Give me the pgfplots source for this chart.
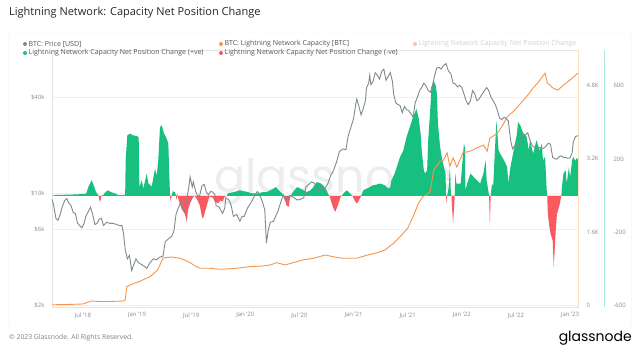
\documentclass[border=0pt]{standalone}
\usepackage{pgfplots}
\pgfplotsset{compat=1.18}
\usepackage{fontspec}
\setmainfont{Open Sans}
\newfontfamily\logofont{Poppins}
\definecolor{pricegray}{HTML}{7E8A8F}
\definecolor{capor}{HTML}{F7944A}
\definecolor{posgreen}{HTML}{17C07E}
\definecolor{negred}{HTML}{F85A60}
\definecolor{tealax}{HTML}{A8EBDA}
\definecolor{orax}{HTML}{FCDDBE}
\definecolor{ticktxt}{HTML}{8C8C8C}
\definecolor{legtxt}{HTML}{555555}
\newcommand\tickfont{\fontsize{6}{7}\selectfont}
\newcommand\legfont{\fontsize{7}{8}\selectfont}
\pgfplotsset{
  base/.style={at={(52pt,47pt)}, anchor=south west, scale only axis,
    width=526pt, height=257pt, xmin=2018.214, xmax=2023.074},
}
\begin{document}
\begin{tikzpicture}
\begin{scope}[x=1pt,y=1pt]
\fill[white] (0,0) rectangle (640,354);
\draw[gray!12, rounded corners=2pt] (8.5,28) rectangle (631.5,321);
\node[anchor=base west, font=\logofont\fontsize{46}{46}\selectfont, text=gray!14, inner sep=0pt] at (214,161) {glassnode};
\end{scope}

% grid + left/bottom axis (price scale)
\begin{axis}[base, ymode=log, ymin=1950, ymax=79000,
  ytick={2000,6000,10000,40000}, yticklabels={\$2k,\$6k,\$10k,\$40k}, minor ytick={},
  xtick={2018.5,2019,2019.5,2020,2020.5,2021,2021.5,2022,2022.5,2023},
  xticklabels={Jul '18,Jan '19,Jul '19,Jan '20,Jul '20,Jan '21,Jul '21,Jan '22,Jul '22,Jan '23},
  axis line style={draw=gray!20}, major tick length=0pt,
  ymajorgrids, grid style={gray!12, line width=0.5pt},
  tick label style={font=\tickfont, text=ticktxt},
  yticklabel style={xshift=-4pt}, xticklabel style={yshift=-2pt}]
\end{axis}
% grid at capacity ticks
\begin{axis}[base, ymin=-33, ymax=5575, axis lines=none, xtick=\empty,
  ytick={1600,3200,4800}, yticklabels={}, major tick length=0pt,
  ymajorgrids, grid style={gray!12, line width=0.5pt}]
\end{axis}

% net position change
\begin{axis}[base, ymin=-606.6, ymax=795.4, axis x line=none, axis y line*=right,
  y axis line style={draw=none}, ytick={-600,-200,200,600}, yticklabels={-600,-200,200,600},
  major tick length=0pt, tick label style={font=\tickfont, text=ticktxt},
  yticklabel style={anchor=west, xshift=32pt}]
\addplot[fill=posgreen, draw=none] coordinates {
(2018.214,0) (2018.25,5) (2018.35,6) (2018.45,8) (2018.50,10) (2018.53,12) (2018.55,48) (2018.58,85) (2018.60,57) (2018.62,21) (2018.64,5) (2018.645,0) (2018.67,0) (2018.69,5) (2018.70,15) (2018.73,30) (2018.76,20) (2018.80,12) (2018.82,5) (2018.85,4) (2018.89,5) (2018.895,200) (2018.91,330) (2018.935,339) (2018.965,330) (2018.997,325) (2019.015,320) (2019.021,48) (2019.043,85) (2019.058,40) (2019.089,121) (2019.104,68) (2019.135,50) (2019.166,148) (2019.182,110) (2019.196,194) (2019.212,375) (2019.228,385) (2019.249,340) (2019.268,320) (2019.289,285) (2019.298,110) (2019.305,0) (2019.32,0) (2019.33,25) (2019.35,20) (2019.36,0) (2019.365,0) (2019.37,10) (2019.375,0) (2019.83,0) (2019.84,14) (2019.90,21) (2019.95,30) (2020.02,21) (2020.06,14) (2020.11,12) (2020.16,20) (2020.20,21) (2020.26,39) (2020.28,48) (2020.31,30) (2020.34,14) (2020.355,0) (2020.42,0) (2020.44,21) (2020.48,48) (2020.51,39) (2020.54,30) (2020.57,21) (2020.60,30) (2020.63,48) (2020.66,75) (2020.69,70) (2020.72,57) (2020.75,30) (2020.77,5) (2020.78,0) (2020.89,0) (2020.92,21) (2020.94,30) (2020.97,12) (2020.99,0) (2021.07,0) (2021.09,30) (2021.12,39) (2021.18,57) (2021.25,67) (2021.29,57) (2021.32,39) (2021.34,48) (2021.35,85) (2021.38,121) (2021.40,157) (2021.43,212) (2021.46,248) (2021.49,321) (2021.52,375) (2021.55,430) (2021.57,457) (2021.58,476) (2021.60,430) (2021.62,339) (2021.63,248) (2021.65,139) (2021.66,121) (2021.68,139) (2021.69,303) (2021.71,484) (2021.72,594) (2021.74,630) (2021.76,600) (2021.77,558) (2021.78,394) (2021.80,266) (2021.82,194) (2021.85,121) (2021.855,0) (2021.865,0) (2021.88,48) (2021.89,157) (2021.90,10) (2021.905,0) (2021.935,0) (2021.94,121) (2021.95,67) (2021.99,67) (2022.02,285) (2022.03,260) (2022.033,30) (2022.05,67) (2022.08,121) (2022.11,103) (2022.14,85) (2022.17,67) (2022.20,121) (2022.22,194) (2022.23,85) (2022.25,10) (2022.253,0) (2022.267,0) (2022.28,67) (2022.29,48) (2022.32,412) (2022.34,248) (2022.355,230) (2022.39,194) (2022.42,157) (2022.43,67) (2022.45,157) (2022.48,248) (2022.51,339) (2022.52,403) (2022.54,385) (2022.57,339) (2022.60,321) (2022.62,248) (2022.63,303) (2022.66,230) (2022.69,303) (2022.72,248) (2022.74,285) (2022.75,194) (2022.77,212) (2022.785,30) (2022.79,0) (2022.92,0) (2022.925,48) (2022.94,121) (2022.96,139) (2022.97,67) (2022.99,157) (2023.00,100) (2023.02,194) (2023.03,212) (2023.05,190) (2023.06,205) (2023.074,200) (2023.074,0)
};
\addplot[fill=negred, draw=none] coordinates {
(2018.645,0) (2018.65,-20) (2018.66,-34) (2018.67,0) (2019.305,0) (2019.31,-30) (2019.32,0) (2019.36,0) (2019.365,-25) (2019.37,0) (2019.375,0) (2019.38,-15) (2019.41,-70) (2019.44,-97) (2019.46,-143) (2019.47,-80) (2019.49,-40) (2019.52,-5) (2019.53,0) (2019.55,-15) (2019.58,-52) (2019.60,-116) (2019.61,-124) (2019.64,-61) (2019.66,-20) (2019.67,-5) (2019.70,-10) (2019.72,-34) (2019.75,-40) (2019.77,-25) (2019.79,-30) (2019.81,-5) (2019.83,0) (2020.355,0) (2020.37,-25) (2020.38,-52) (2020.40,-61) (2020.41,-25) (2020.42,0) (2020.78,0) (2020.79,-25) (2020.81,-61) (2020.83,-88) (2020.85,-61) (2020.87,-25) (2020.88,-5) (2020.89,0) (2020.99,0) (2021.01,-25) (2021.03,-43) (2021.05,-25) (2021.07,0) (2021.855,0) (2021.86,-43) (2021.865,0) (2021.905,0) (2021.91,-60) (2021.92,-152) (2021.93,-50) (2021.935,0) (2022.253,0) (2022.26,-170) (2022.267,0) (2022.79,0) (2022.795,-97) (2022.81,-170) (2022.82,-206) (2022.84,-243) (2022.85,-388) (2022.86,-279) (2022.87,-170) (2022.88,-97) (2022.90,-60) (2022.915,-15) (2022.92,0)
};
\end{axis}

% capacity
\begin{axis}[base, ymin=-33, ymax=5575, axis x line=none, axis y line*=right,
  y axis line style={draw=orax, line width=0.8pt}, ytick={0,1600,3200,4800}, yticklabels={0,1.6K,3.2K,4.8K},
  major tick length=0pt, tick label style={font=\tickfont, text=ticktxt},
  yticklabel style={anchor=west, xshift=5pt}]
\addplot[capor, line width=0.9pt] coordinates {
(2018.214,15) (2018.30,20) (2018.40,25) (2018.50,33) (2018.55,76) (2018.58,98) (2018.62,92) (2018.66,87) (2018.75,87) (2018.87,98) (2018.89,120) (2018.905,410) (2018.94,450) (2018.98,490) (2019.02,520) (2019.07,578) (2019.12,628) (2019.19,775) (2019.24,1036) (2019.32,1058) (2019.40,1030) (2019.45,980) (2019.49,934) (2019.54,860) (2019.58,812) (2019.67,812) (2019.77,790) (2019.85,800) (2019.92,812) (2020.04,847) (2020.15,860) (2020.23,884) (2020.29,934) (2020.37,884) (2020.44,934) (2020.53,993) (2020.63,1030) (2020.74,1102) (2020.81,1065) (2020.90,1030) (2021.03,1030) (2021.13,1102) (2021.22,1152) (2021.29,1211) (2021.37,1357) (2021.43,1501) (2021.50,1684) (2021.55,1938) (2021.60,2230) (2021.64,2374) (2021.68,2420) (2021.71,2500) (2021.74,2950) (2021.77,3050) (2021.80,3150) (2021.83,3170) (2021.865,3330) (2021.89,3040) (2021.92,3220) (2021.955,3020) (2022.01,3330) (2022.08,3370) (2022.14,3440) (2022.20,3500) (2022.235,3370) (2022.26,3650) (2022.33,3760) (2022.38,3940) (2022.42,4120) (2022.48,4240) (2022.54,4400) (2022.60,4560) (2022.66,4750) (2022.70,4850) (2022.77,5070) (2022.79,4860) (2022.845,4740) (2022.89,4700) (2022.94,4810) (2023.00,4920) (2023.074,5070)
};
\end{axis}

% price
\begin{axis}[base, ymode=log, ymin=1950, ymax=79000, hide axis]
\addplot[pricegray, line width=0.9pt] coordinates {
(2018.214,9200) (2018.23,8400) (2018.25,7000) (2018.27,6800) (2018.29,7400) (2018.31,8300) (2018.33,9000) (2018.35,9300) (2018.37,8700) (2018.39,8400) (2018.41,7600) (2018.43,7500) (2018.45,6500) (2018.47,6300) (2018.49,6100) (2018.51,6500) (2018.53,7300) (2018.55,7700) (2018.57,8200) (2018.59,7400) (2018.61,6400) (2018.63,6500) (2018.65,6900) (2018.67,7000) (2018.69,6300) (2018.72,6600) (2018.75,6500) (2018.78,6500) (2018.81,6400) (2018.84,6300) (2018.86,6300) (2018.875,5600) (2018.89,4500) (2018.91,3900) (2018.93,4100) (2018.95,3300) (2018.97,3600) (2018.99,3900) (2019.01,3700) (2019.04,3600) (2019.07,3500) (2019.09,3400) (2019.12,3700) (2019.15,3900) (2019.18,3850) (2019.21,4000) (2019.24,4050) (2019.26,5000) (2019.29,5200) (2019.32,5400) (2019.34,5800) (2019.36,7400) (2019.38,8100) (2019.40,8700) (2019.42,8200) (2019.44,7800) (2019.46,9200) (2019.48,11200) (2019.49,12700) (2019.51,11000) (2019.52,11800) (2019.54,10400) (2019.56,9600) (2019.58,9800) (2019.60,11200) (2019.62,11400) (2019.64,10200) (2019.66,9800) (2019.68,10300) (2019.70,10200) (2019.72,9800) (2019.73,8400) (2019.76,8200) (2019.79,7500) (2019.81,8100) (2019.82,9400) (2019.85,9100) (2019.87,8400) (2019.89,7200) (2019.92,7400) (2019.95,6700) (2019.97,7200) (2019.99,7200) (2020.02,8100) (2020.05,8700) (2020.08,9500) (2020.11,10300) (2020.13,9900) (2020.16,8800) (2020.18,7900) (2020.195,4900) (2020.21,5800) (2020.23,6600) (2020.26,6700) (2020.28,7200) (2020.30,7700) (2020.33,8900) (2020.35,9800) (2020.37,9000) (2020.40,9600) (2020.42,9700) (2020.45,9400) (2020.48,9100) (2020.51,9200) (2020.54,9400) (2020.56,11000) (2020.58,11300) (2020.61,11800) (2020.64,11600) (2020.67,10300) (2020.70,10800) (2020.73,10600) (2020.76,11400) (2020.79,13000) (2020.81,13700) (2020.84,15500) (2020.87,18300) (2020.90,19000) (2020.93,18800) (2020.95,22800) (2020.98,26500) (2021.00,29300) (2021.02,36000) (2021.03,39000) (2021.05,35000) (2021.07,31000) (2021.09,34000) (2021.11,38000) (2021.12,46000) (2021.14,49000) (2021.15,55000) (2021.16,48000) (2021.18,50000) (2021.20,57000) (2021.22,55000) (2021.24,52000) (2021.26,58000) (2021.28,60000) (2021.30,51000) (2021.32,54000) (2021.34,57000) (2021.36,50000) (2021.37,42000) (2021.39,37000) (2021.41,36000) (2021.43,35500) (2021.45,32000) (2021.47,35000) (2021.49,33500) (2021.51,33000) (2021.53,31500) (2021.55,30000) (2021.57,37000) (2021.59,40000) (2021.61,44000) (2021.63,46000) (2021.65,49000) (2021.67,47000) (2021.69,44000) (2021.71,43000) (2021.73,47000) (2021.75,55000) (2021.77,61000) (2021.79,61500) (2021.81,60000) (2021.83,63000) (2021.855,65000) (2021.87,60000) (2021.88,58000) (2021.90,56000) (2021.92,49000) (2021.94,48500) (2021.96,46500) (2021.98,47500) (2022.00,46000) (2022.02,42000) (2022.04,38000) (2022.06,36000) (2022.08,38000) (2022.10,44000) (2022.12,42000) (2022.14,38000) (2022.16,39000) (2022.18,41000) (2022.20,43000) (2022.23,46000) (2022.25,44000) (2022.27,40000) (2022.29,38000) (2022.31,36000) (2022.33,33000) (2022.35,29500) (2022.37,29000) (2022.39,30000) (2022.41,29500) (2022.43,28500) (2022.45,22000) (2022.46,20200) (2022.47,19000) (2022.49,20000) (2022.51,19300) (2022.53,20500) (2022.55,22500) (2022.57,23500) (2022.59,23200) (2022.61,24000) (2022.63,21500) (2022.65,20000) (2022.67,19500) (2022.69,18800) (2022.71,19500) (2022.73,19200) (2022.75,19100) (2022.77,19500) (2022.80,20600) (2022.82,20300) (2022.84,16800) (2022.86,16500) (2022.88,16400) (2022.90,17000) (2022.92,17200) (2022.94,16800) (2022.96,16800) (2022.98,16600) (2023.00,16700) (2023.02,17900) (2023.03,20900) (2023.05,22700) (2023.074,23000)
};
\end{axis}

\begin{scope}[x=1pt,y=1pt]
\draw[tealax, line width=0.8pt] (604,47) -- (604,304);
% legend
\fill[pricegray] (25,310) circle (2);
\node[anchor=west, font=\legfont, text=legtxt, inner sep=0pt] at (28.5,310) {BTC: Price [USD]};
\fill[capor] (221,310) circle (2);
\node[anchor=west, font=\legfont, text=legtxt, inner sep=0pt] at (224.5,310) {BTC: Lightning Network Capacity [BTC]};
\fill[capor!55] (415,310) circle (2);
\node[anchor=west, font=\legfont, text=gray!35, inner sep=0pt] at (418.5,310) {Lightning Network Capacity Net Position Change};
\fill[posgreen] (25,301) circle (2);
\node[anchor=west, font=\legfont, text=legtxt, inner sep=0pt] at (28.5,301) {Lightning Network Capacity Net Position Change (+ve)};
\fill[negred] (221,301) circle (2);
\node[anchor=west, font=\legfont, text=legtxt, inner sep=0pt] at (224.5,301) {Lightning Network Capacity Net Position Change (-ve)};
% title and footer
\node[anchor=west, font=\fontsize{11}{13}\selectfont, text=black!85, inner sep=0pt] at (9,341) {Lightning Network: Capacity Net Position Change};
\node[anchor=west, font=\fontsize{6.8}{8}\selectfont, text=gray, inner sep=0pt] at (9,16) {© 2023 Glassnode. All Rights Reserved.};
\node[anchor=east, font=\logofont\fontsize{14}{16}\selectfont, text=black, inner sep=0pt] at (632,16) {glassnode};
\end{scope}
\end{tikzpicture}
\end{document}
